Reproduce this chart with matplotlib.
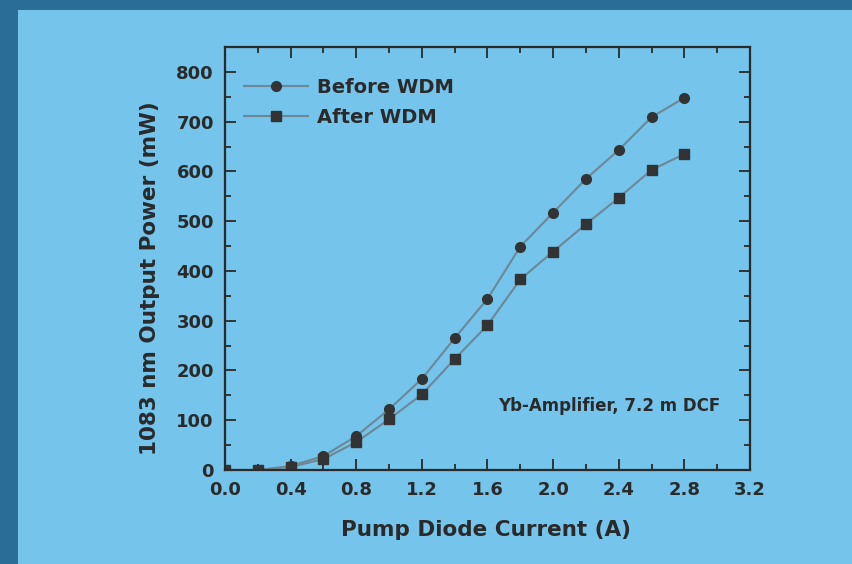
import matplotlib
matplotlib.use('Agg')
import matplotlib.pyplot as plt
from matplotlib.patches import Rectangle
from matplotlib.ticker import MultipleLocator

# Pump current (A) and measured 1083 nm output power (mW)
current = [0.0, 0.2, 0.4, 0.6, 0.8, 1.0, 1.2, 1.4, 1.6, 1.8, 2.0, 2.2, 2.4, 2.6, 2.8]
before_wdm = [0, 0, 8, 28, 68, 122, 183, 265, 344, 449, 517, 585, 643, 709, 748]
after_wdm = [0, 0, 6, 22, 56, 102, 152, 223, 291, 383, 439, 494, 547, 603, 635]

x_ticks = [0.0, 0.4, 0.8, 1.2, 1.6, 2.0, 2.4, 2.8, 3.2]
y_ticks = [0, 100, 200, 300, 400, 500, 600, 700, 800]

BG = '#74c4ec'
FRAME = '#2b6e95'
INK = '#2a2a2a'
LINE = '#6d8795'

plt.rcParams['font.family'] = ['DejaVu Sans']
plt.rcParams['font.weight'] = 'bold'
plt.rcParams['axes.labelweight'] = 'bold'

fig = plt.figure(figsize=(8.53, 5.64), dpi=100)
fig.patch.set_facecolor(FRAME)
# light slide area inside the dark frame, kept behind the axes
fig.patches.append(Rectangle((18 / 853, 0), 1, 554 / 564, transform=fig.transFigure,
                             facecolor=BG, edgecolor='none', zorder=-10))

ax = fig.add_axes([225 / 853, 94 / 564, 525 / 853, 423 / 564])
ax.set_facecolor(BG)

ax.plot(current, before_wdm, color=LINE, lw=1.5, marker='o', ms=7,
        mfc='#333333', mec='#333333', label='Before WDM')
ax.plot(current, after_wdm, color=LINE, lw=1.5, marker='s', ms=6.5,
        mfc='#333333', mec='#333333', label='After WDM')

ax.set_xlim(0, 3.2)
ax.set_ylim(0, 850)
ax.set_xticks(x_ticks)
ax.set_xticklabels([f'{t:.1f}' for t in x_ticks])
ax.set_yticks(y_ticks)
ax.xaxis.set_minor_locator(MultipleLocator(0.2))
ax.yaxis.set_minor_locator(MultipleLocator(50))

ax.tick_params(which='both', direction='in', top=True, right=True,
               colors=INK, width=1.3, labelsize=13)
ax.tick_params(which='major', length=8, pad=8)
ax.tick_params(which='minor', length=4)
for s in ax.spines.values():
    s.set_linewidth(1.6)
    s.set_color(INK)

ax.set_xlabel('Pump Diode Current (A)', fontsize=15.5, color=INK, va='center')
ax.xaxis.set_label_coords(0.497, -0.142)
ax.set_ylabel('1083 nm Output Power (mW)', fontsize=15.5, color=INK, va='center')
ax.yaxis.set_label_coords(-0.143, 0.454)

leg = ax.legend(loc='upper left', bbox_to_anchor=(0.022, 0.945), frameon=False,
                fontsize=14, handlelength=3.3, borderaxespad=0.0,
                labelspacing=0.55, handletextpad=0.45)
for t in leg.get_texts():
    t.set_color(INK)

ax.text(0.943, 0.151, 'Yb-Amplifier, 7.2 m DCF', transform=ax.transAxes,
        ha='right', va='center', fontsize=12, color=INK)

fig.savefig('out.png', dpi=100, facecolor=fig.get_facecolor())
